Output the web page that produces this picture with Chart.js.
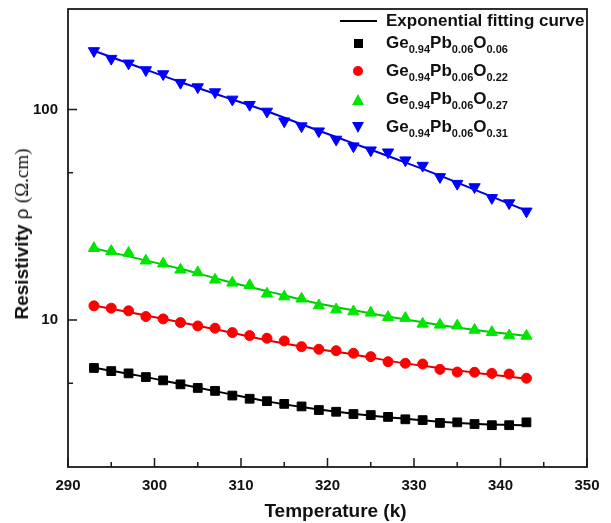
<!DOCTYPE html>
<html>
<head>
<meta charset="utf-8">
<title>Resistivity vs Temperature</title>
<script src="https://cdn.jsdelivr.net/npm/chart.js@4.4.0/dist/chart.umd.min.js"></script>
<style>
  body { margin: 0; background: #fff; }
  #wrap { position: relative; width: 611px; height: 523px; font-family: 'Liberation Sans', Arial, sans-serif; }
  #chart { position: absolute; left: 0; top: 0; }
  .overlay { position: absolute; white-space: nowrap; color: #111; }
  .row { position: absolute; height: 22px; line-height: 22px; white-space: nowrap; font-weight: bold; font-size: 17px; color: #111; }
  .row .s { font-size: 11px; position: relative; top: 5px; }
  .mk { position: absolute; }
  #xtitle { left: 0; width: 671px; top: 500px; text-align: center; font-weight: bold; font-size: 19px; }
  #ytitle { left: 22px; top: 234px; transform: translate(-50%, -50%) rotate(-90deg); font-size: 19px; }
  #ytitle b { font-weight: bold; }
  #ytitle .unit { font-family: 'Liberation Serif', 'Times New Roman', serif; font-size: 19px; }
</style>
</head>
<body>
<div id="wrap">
  <canvas id="chart" width="611" height="523"></canvas>
  <div id="legend"></div>
  <div id="ytitle" class="overlay"><b>Resistivity</b> &rho; <span class="unit">(&Omega;.cm)</span></div>
  <div id="xtitle" class="overlay">Temperature (k)</div>
</div>
<script>
// measured temperatures (K)
const temps = [293, 295, 297, 299, 301, 303, 305, 307, 309, 311, 313, 315, 317,
               319, 321, 323, 325, 327, 329, 331, 333, 335, 337, 339, 341, 343];

// resistivity (ohm.cm), one array per oxygen content
const rhoO006 = [5.91, 5.71, 5.57, 5.35, 5.16, 4.94, 4.75, 4.60, 4.37, 4.22, 4.11, 3.99, 3.88,
                 3.73, 3.66, 3.57, 3.53, 3.46, 3.37, 3.34, 3.24, 3.26, 3.20, 3.16, 3.16, 3.26];
const rhoO022 = [11.66, 11.37, 11.04, 10.37, 10.11, 9.71, 9.36, 9.13, 8.70, 8.42, 8.18, 7.94, 7.46,
                 7.25, 7.14, 6.94, 6.69, 6.33, 6.22, 6.17, 5.82, 5.65, 5.64, 5.57, 5.53, 5.28];
const rhoO027 = [21.9, 21.2, 20.8, 19.1, 18.5, 17.3, 16.8, 15.5, 15.0, 14.6, 13.3, 12.9, 12.6,
                 11.7, 11.2, 10.95, 10.8, 10.3, 10.2, 9.57, 9.47, 9.39, 8.96, 8.74, 8.42, 8.39];
const rhoO031 = [189.6, 174.3, 165.6, 153.9, 147.3, 134.0, 127.7, 120.9, 111.6, 105.3, 97.8, 87.9, 83.3,
                 78.8, 72.0, 66.9, 64.0, 62.6, 57.4, 54.1, 47.8, 44.4, 42.8, 38.0, 35.9, 32.8];

// exponential fitting curves
const fitTemps = [293, 298, 303, 308, 313, 318, 323, 328, 333, 338, 343];
const fitO006 = [5.93, 5.45, 4.95, 4.50, 4.10, 3.80, 3.58, 3.42, 3.28, 3.19, 3.16];
const fitO022 = [11.7, 10.7, 9.75, 8.85, 8.0, 7.35, 6.85, 6.3, 5.9, 5.55, 5.25];
const fitO027 = [21.9, 19.6, 17.5, 15.4, 13.7, 12.2, 11.1, 10.2, 9.45, 8.85, 8.4];
const fitO031 = [190, 160, 135, 115, 98, 82, 69, 58, 48.5, 40, 33];

// oxygen subscripts used in the legend
const oxygen = ['0.06', '0.22', '0.27', '0.31'];

// axis ticks
const xMajor = [290, 300, 310, 320, 330, 340, 350];
const xMinor = [295, 305, 315, 325, 335, 345];
const yMajor = [10, 100];
const yMinor = [5, 50];

const colors = ['#000000', '#ff0000', '#00e600', '#0000ff'];
const lineColors = ['#000000', '#e00000', '#00c800', '#0000d8'];

const toPoints = (xs, ys) => xs.map((x, i) => ({ x: x, y: ys[i] }));

const series = [
  { vals: rhoO006, fit: fitO006, style: 'rect', radius: 6.2, rot: 0 },
  { vals: rhoO022, fit: fitO022, style: 'circle', radius: 5, rot: 0 },
  { vals: rhoO027, fit: fitO027, style: 'triangle', radius: 6.5, rot: 0 },
  { vals: rhoO031, fit: fitO031, style: 'triangle', radius: 6.5, rot: 180 },
];

const datasets = [];
series.forEach((s, i) => {
  datasets.push({
    label: 'fit ' + oxygen[i],
    data: toPoints(fitTemps, s.fit),
    showLine: true,
    borderColor: lineColors[i],
    borderWidth: 2,
    pointRadius: 0,
    cubicInterpolationMode: 'monotone',
    order: 2,
  });
  datasets.push({
    label: 'Ge0.94Pb0.06O' + oxygen[i],
    data: toPoints(temps, s.vals),
    showLine: false,
    pointStyle: s.style,
    pointRotation: s.rot,
    pointRadius: s.radius,
    backgroundColor: colors[i],
    borderColor: colors[i],
    borderWidth: 1,
    order: 1,
  });
});

// box round the plot plus inward ticks, like the original Origin figure
const frameTicks = {
  id: 'frameTicks',
  afterDraw(chart) {
    const { ctx, chartArea: a, scales: { x, y } } = chart;
    ctx.save();
    ctx.strokeStyle = '#1a1a1a';
    ctx.lineWidth = 1.8;
    ctx.strokeRect(a.left, a.top, a.right - a.left, a.bottom - a.top);
    ctx.lineWidth = 1.5;
    ctx.beginPath();
    xMajor.forEach(v => { const p = x.getPixelForValue(v); ctx.moveTo(p, a.bottom); ctx.lineTo(p, a.bottom - 9); });
    xMinor.forEach(v => { const p = x.getPixelForValue(v); ctx.moveTo(p, a.bottom); ctx.lineTo(p, a.bottom - 5); });
    yMajor.forEach(v => { const p = y.getPixelForValue(v); ctx.moveTo(a.left, p); ctx.lineTo(a.left + 9, p); });
    yMinor.forEach(v => { const p = y.getPixelForValue(v); ctx.moveTo(a.left, p); ctx.lineTo(a.left + 5, p); });
    ctx.stroke();
    ctx.restore();
  }
};

Chart.defaults.font.family = "'Liberation Sans', Arial, sans-serif";
Chart.defaults.color = '#111';

new Chart(document.getElementById('chart').getContext('2d'), {
  type: 'scatter',
  data: { datasets: datasets },
  options: {
    responsive: false,
    animation: false,
    // fixed padding, no extra room for tick labels
    layout: { autoPadding: false, padding: { left: 0, right: 24, top: 9, bottom: 0 } },
    scales: {
      x: {
        type: 'linear',
        min: 290,
        max: 350,
        afterBuildTicks: (scale) => { scale.ticks = xMajor.map(v => ({ value: v })); },
        afterFit: (scale) => { scale.height = 56; scale.paddingLeft = 0; scale.paddingRight = 0; },
        grid: { display: false, drawTicks: false },
        border: { display: false },
        ticks: { padding: 10, font: { size: 15, weight: 'bold' }, color: '#111' },
      },
      y: {
        type: 'logarithmic',
        min: 2,
        max: 300,
        afterBuildTicks: (scale) => { scale.ticks = yMajor.map(v => ({ value: v })); },
        afterFit: (scale) => { scale.width = 68; scale.paddingTop = 0; scale.paddingBottom = 0; },
        grid: { display: false, drawTicks: false },
        border: { display: false },
        ticks: { padding: 10, font: { size: 15, weight: 'bold' }, color: '#111', callback: (v) => String(v) },
      },
    },
    plugins: {
      legend: { display: false },
      tooltip: { enabled: false },
    },
  },
  plugins: [frameTicks],
});

// legend with subscripts, kept as html text
const legend = document.getElementById('legend');
const rowY = [21, 43, 71, 99, 127];
let html = '<div class="mk" style="left:340px;top:20px;width:37px;height:2px;background:#000"></div>' +
           '<div class="row" style="left:386px;top:' + (rowY[0] - 11) + 'px">Exponential fitting curve</div>';
const markerHtml = [
  '<div class="mk" style="left:354px;top:{y}px;width:9px;height:9px;background:' + colors[0] + '"></div>',
  '<div class="mk" style="left:353px;top:{y}px;width:10px;height:10px;border-radius:50%;background:' + colors[1] + '"></div>',
  '<svg class="mk" style="left:352px;top:{y}px" width="12" height="11"><polygon points="6,0 12,11 0,11" fill="' + colors[2] + '"/></svg>',
  '<svg class="mk" style="left:352px;top:{y}px" width="12" height="11"><polygon points="0,0 12,0 6,11" fill="' + colors[3] + '"/></svg>',
];
const mkHalf = [4.5, 5, 5.5, 5.5];
oxygen.forEach((o, i) => {
  const y = rowY[i + 1];
  html += markerHtml[i].replace('{y}', Math.round(y - mkHalf[i]));
  html += '<div class="row" style="left:386px;top:' + (y - 11) + 'px">Ge<span class="s">0.94</span>Pb<span class="s">0.06</span>O<span class="s">' + o + '</span></div>';
});
legend.innerHTML = html;
</script>
</body>
</html>
